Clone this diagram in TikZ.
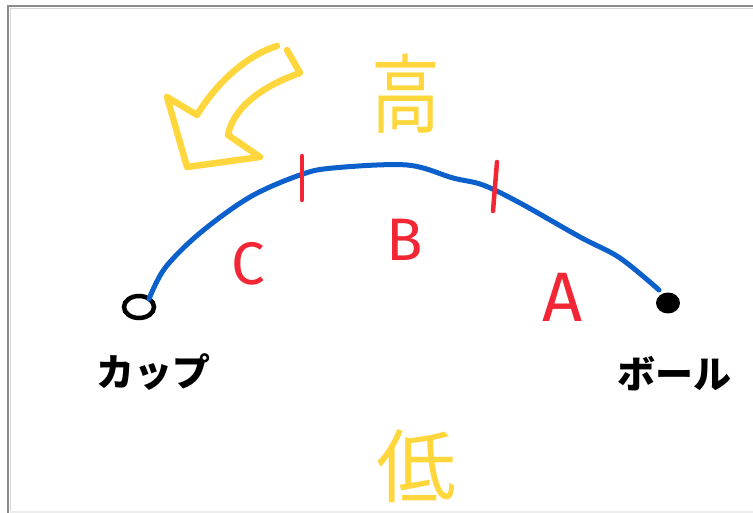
\documentclass[tikz,border=0pt]{standalone}
\usepackage{fontspec}
\usetikzlibrary{shapes.geometric}
\setmainfont{Fira Sans}
\newfontfamily\jpfont{Noto Sans CJK JP}
\definecolor{pathblue}{RGB}{12,96,204}
\definecolor{markred}{RGB}{242,38,52}
\definecolor{penyellow}{RGB}{255,214,60}
\definecolor{framegray}{RGB}{138,138,138}
\tikzset{
  route/.style={draw=pathblue, line width=5pt, line cap=round, line join=round},
  tick/.style={draw=markred, line width=4.5pt, line cap=round},
  hint/.style={draw=penyellow, line width=6.5pt, line cap=round, line join=round},
  seglabel/.style={text=markred, inner sep=0pt, font=\fontsize{60}{62}\selectfont},
  jplabel/.style={text=black, inner sep=0pt, font=\jpfont\bfseries\fontsize{38}{40}\selectfont},
  bigword/.style={text=penyellow, inner sep=0pt, font=\jpfont\fontsize{86}{88}\selectfont},
}
\begin{document}
\begin{tikzpicture}[x=1pt, y=-1pt]
  \useasboundingbox (0,0) rectangle (753,513);
  \fill[white] (0,0) rectangle (753,513);
  % frame edges
  \draw[framegray, line width=2.2pt] (8,513) -- (8,6) -- (753,6);
  \draw[framegray!35, line width=1.6pt] (10.6,513) -- (10.6,8.6) -- (753,8.6);
  \draw[framegray!15, line width=1.2pt] (10,512) -- (753,512);

  % start and end markers
  \node (cup) [draw=black, line width=4.5pt, ellipse, minimum width=30pt, minimum height=22pt, inner sep=0pt] at (139,307) {};
  \node (ball) [fill=black, ellipse, minimum width=24pt, minimum height=21pt, inner sep=0pt] at (668,303) {};

  % the curved route between them
  \coordinate (rs) at (149,299);
  \coordinate (re) at (659,290);
  \draw[route] plot[smooth, tension=0.55] coordinates {
    (rs) (165,268) (200,233) (250,197) (300,175) (333,168) (407,165)
    (453,178) (483,185) (520,203) (580,237) (620,258) (re)};

  % section dividers
  \draw[tick] (302,156) -- (302,200);
  \draw[tick] (497,162) -- (493,211);

  % section letters
  \node (lc) [seglabel] at (248,264) {C};
  \node (lb) [seglabel] at (405,240) {B};
  \node (la) [seglabel, font=\fontsize{70}{72}\selectfont] at (563,297) {A};

  % point names
  \node (tcup) [jplabel] at (153,372) {カップ};
  \node (tball) [jplabel] at (674,374) {ボール};

  % high / low
  \node (hi) [bigword] at (406,94) {\scalebox{0.8}[1]{高}};
  \node (lo) [bigword, font=\jpfont\fontsize{80}{82}\selectfont] at (416,466) {低};

  % curved outline arrow
  \draw[hint] (277,46) .. controls (245,56) and (215,85) .. (197,115)
    -- (167,97) -- (187,167) -- (260,157) -- (228,135)
    .. controls (233,108) and (262,86) .. (300,73) -- (287,50);
\end{tikzpicture}
\end{document}
